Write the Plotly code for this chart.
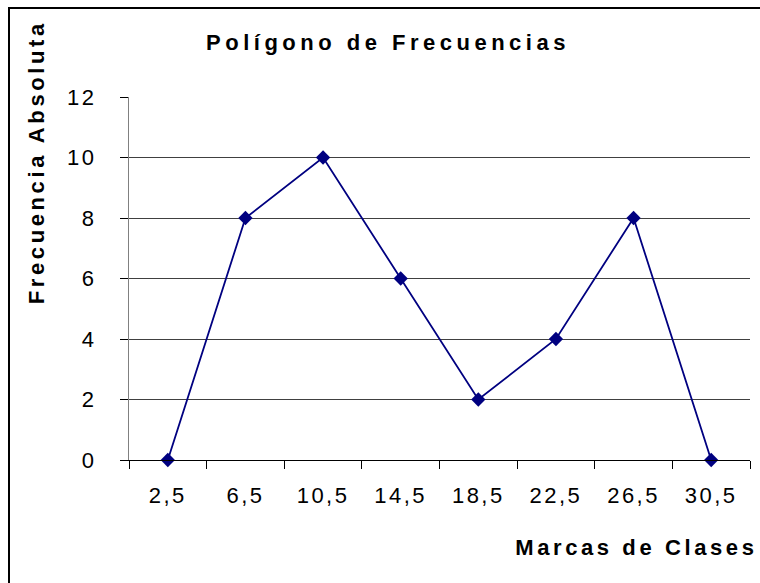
import plotly.graph_objects as go

marcas = ["2,5", "6,5", "10,5", "14,5", "18,5", "22,5", "26,5", "30,5"]
frecuencia = [0, 8, 10, 6, 2, 4, 8, 0]

W, H = 760, 583
L, R, T, B = 129, 10, 97, 123
pw, ph = W - L - R, H - T - B


def px_x(p):
    return (p - L) / pw


def px_y(p):
    return (H - B - p) / ph


FONT = "Liberation Sans, Arial, sans-serif"

fig = go.Figure()
fig.add_trace(go.Scatter(
    x=marcas,
    y=frecuencia,
    mode="lines+markers",
    line=dict(color="#000080", width=1.8),
    marker=dict(symbol="diamond", size=11, color="#000080"),
    showlegend=False,
    cliponaxis=False,
))

fig.update_layout(
    width=W,
    height=H,
    margin=dict(l=L, r=R, t=T, b=B),
    paper_bgcolor="white",
    plot_bgcolor="white",
    font=dict(family=FONT, size=22, color="black"),
    title=dict(
        text="<b>Polígono de Frecuencias</b>",
        x=px_x(388), xref="paper", xanchor="center",
        y=1 - 42 / H, yref="container", yanchor="middle",
        font=dict(size=22, family=FONT),
    ),
    xaxis=dict(
        type="category",
        range=[-0.5, 7.5],
        showgrid=False,
        showline=True, linecolor="black", linewidth=1,
        ticks="outside", ticklen=8, tickcolor="black", tickwidth=1,
        tickson="boundaries",
        ticklabelstandoff=16,
        tickfont=dict(size=22),
        zeroline=False,
    ),
    yaxis=dict(
        range=[0, 12], dtick=2,
        showgrid=True, gridcolor="#404040", gridwidth=1,
        showline=True, linecolor="#808080", linewidth=1,
        ticks="outside", ticklen=8, tickcolor="black", tickwidth=1,
        ticklabelstandoff=19,
        tickfont=dict(size=22),
        zeroline=False,
    ),
    annotations=[
        dict(text="<b>Frecuencia Absoluta</b>", xref="paper", yref="paper",
             x=px_x(36), y=px_y(162), textangle=-90, showarrow=False,
             xanchor="center", yanchor="middle", font=dict(size=22)),
        dict(text="<b>Marcas de Clases</b>", xref="paper", yref="paper",
             x=px_x(636), y=px_y(547), showarrow=False,
             xanchor="center", yanchor="middle", font=dict(size=22)),
    ],
    shapes=[
        # chart frame: only the top and left edges fall inside the picture
        dict(type="line", xref="paper", yref="paper",
             x0=px_x(8), x1=px_x(770), y0=px_y(8), y1=px_y(8),
             line=dict(color="black", width=2), layer="above"),
        dict(type="line", xref="paper", yref="paper",
             x0=px_x(9), x1=px_x(9), y0=px_y(7), y1=px_y(590),
             line=dict(color="black", width=2), layer="above"),
    ],
)

page_css = """
document.body.style.margin = '0';
document.body.style.overflow = 'hidden';
var st = document.createElement('style');
st.textContent = '.gtitle{letter-spacing:4.5px} .annotation-text{letter-spacing:3.6px} .xtick text, .ytick text{letter-spacing:2.5px}';
document.head.appendChild(st);
"""

fig.write_html("out.html", post_script=page_css, config={"displayModeBar": False})
